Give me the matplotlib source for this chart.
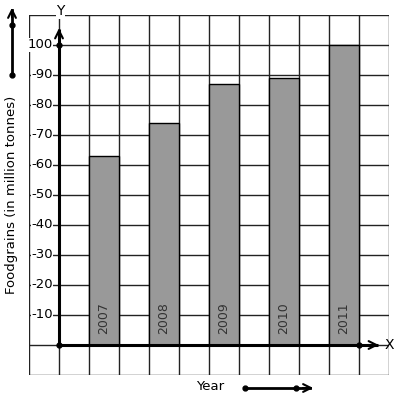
import matplotlib
matplotlib.use("Agg")
import matplotlib.pyplot as plt

years = ["2007", "2008", "2009", "2010", "2011"]
values = [63, 74, 87, 89, 100]
ytick_vals = [10, 20, 30, 40, 50, 60, 70, 80, 90, 100]
ytick_labels = ["-10", "-20", "-30", "-40", "-50", "-60", "-70", "-80", "-90", "100"]

W, H = 397, 401
fig = plt.figure(figsize=(W / 100, H / 100), dpi=100)
fig.patch.set_facecolor("white")
ax = fig.add_axes([29 / W, 26 / H, 360 / W, 360 / H])
ax.set_xlim(-1, 11)
ax.set_ylim(-10, 110)

# grid
for gx in range(-1, 12):
    ax.axvline(gx, color="#222222", lw=1.0, zorder=1)
for gy in range(-10, 111, 10):
    ax.axhline(gy, color="#222222", lw=1.0, zorder=1)
for s in ax.spines.values():
    s.set_visible(False)
ax.set_xticks([])
ax.set_yticks([])

# bars
xs = [1.5 + 2 * i for i in range(len(years))]
ax.bar(xs, values, width=1.0, color="#999999", edgecolor="black", lw=1.0, zorder=2)
for x, yr in zip(xs, years):
    ax.text(x, 3.5, yr, rotation=90, ha="center", va="bottom", fontsize=9,
            color="#333333", zorder=4)

# axes lines with arrows
ax.plot([0, 10.65], [0, 0], color="black", lw=2.2, zorder=3, solid_capstyle="butt")
ax.plot([0, 0], [0, 105.5], color="black", lw=2.2, zorder=3, solid_capstyle="butt")
ax.annotate("", xy=(10.75, 0), xytext=(10.2, 0),
            arrowprops=dict(arrowstyle="->", lw=1.5, color="black", mutation_scale=14),
            zorder=5, annotation_clip=False)
ax.annotate("", xy=(0, 106.5), xytext=(0, 101),
            arrowprops=dict(arrowstyle="->", lw=1.5, color="black", mutation_scale=14),
            zorder=5, annotation_clip=False)
ax.plot([0, 0, 10], [0, 100, 0], "o", color="black", ms=3.5, zorder=6, clip_on=False)
ax.text(11.0, 0, "X", ha="center", va="center", fontsize=10, zorder=6)
ax.text(0.05, 111.3, "Y", ha="center", va="center", fontsize=10, zorder=6,
        bbox=dict(facecolor="white", edgecolor="none", pad=0.5), clip_on=False)

# tick labels
for v, lab in zip(ytick_vals, ytick_labels):
    ax.text(-0.2, v, lab, ha="right", va="center", fontsize=9.5, zorder=6,
            bbox=dict(facecolor="white", edgecolor="none", pad=0.3))

# y label
fig.text(12 / W, 1 - 195 / H, "Foodgrains (in million tonnes)", rotation=90,
         ha="center", va="center", fontsize=9.5)
# x label
fig.text(210 / W, 1 - 387 / H, "Year", ha="center", va="center", fontsize=9.5)

# decorative arrows outside axes
fig.add_artist(matplotlib.lines.Line2D([12 / W, 12 / W], [1 - 75 / H, 1 - 10 / H],
                                       color="black", lw=2))
fig.add_artist(matplotlib.patches.FancyArrowPatch((12 / W, 1 - 20 / H), (12 / W, 1 - 5 / H),
                                                  transform=fig.transFigure,
                                                  arrowstyle="->", mutation_scale=14, lw=1.5,
                                                  color="black"))
fig.add_artist(matplotlib.lines.Line2D([12 / W, 12 / W], [1 - 75 / H, 1 - 25 / H],
                                       color="black", marker="o", ms=3.5, lw=0))
fig.add_artist(matplotlib.lines.Line2D([245 / W, 310 / W], [1 - 388 / H, 1 - 388 / H],
                                       color="black", lw=2))
fig.add_artist(matplotlib.patches.FancyArrowPatch((300 / W, 1 - 388 / H), (316 / W, 1 - 388 / H),
                                                  transform=fig.transFigure,
                                                  arrowstyle="->", mutation_scale=14, lw=1.5,
                                                  color="black"))
fig.add_artist(matplotlib.lines.Line2D([245 / W, 296 / W], [1 - 388 / H, 1 - 388 / H],
                                       color="black", marker="o", ms=3.5, lw=0))

fig.savefig("out.png", dpi=100, facecolor="white")
